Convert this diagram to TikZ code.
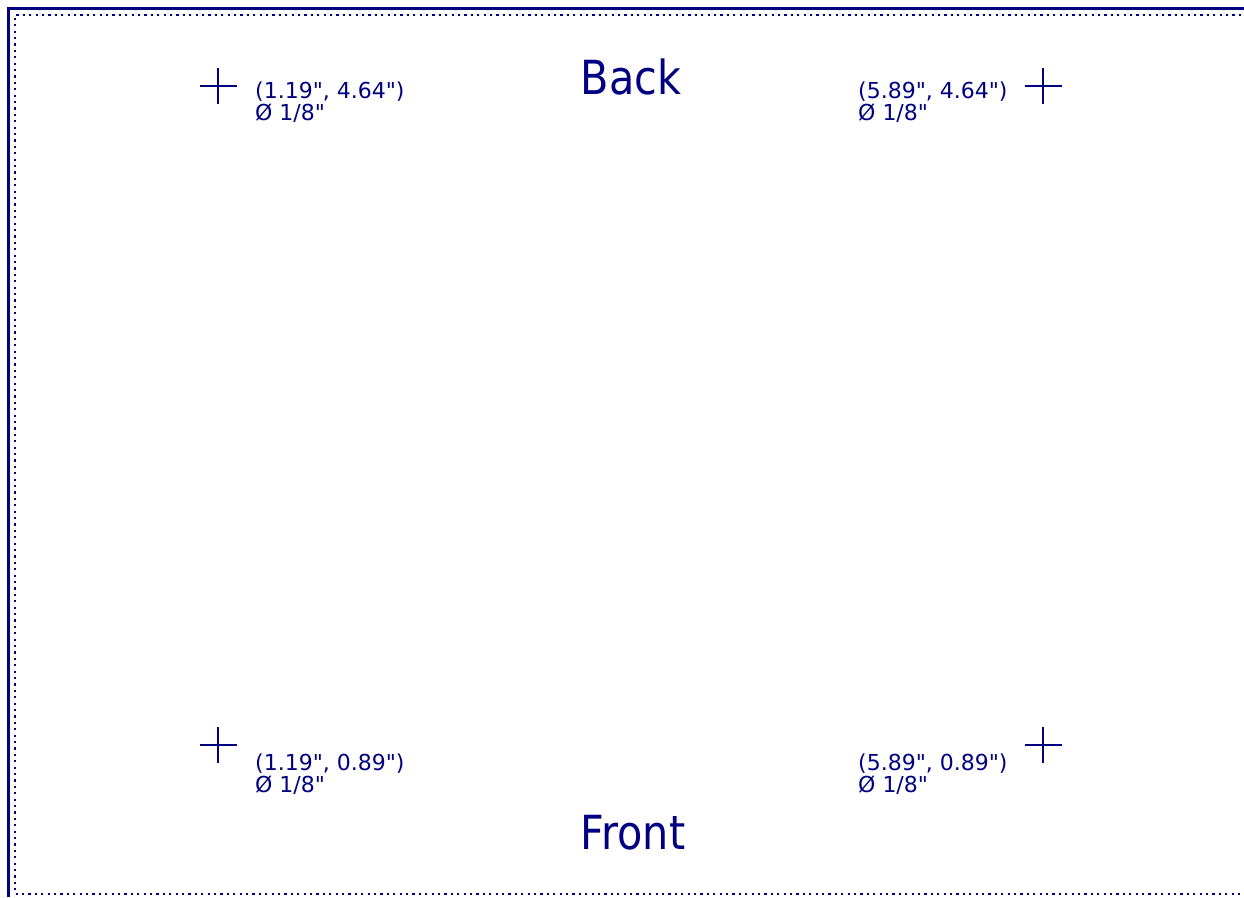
\documentclass[tikz,border=0pt]{standalone}
\usepackage{fontspec}
\setmainfont{DejaVu Sans}[Ligatures=TeXOff]
\newfontfamily\bigfont{DejaVu Sans}[FakeStretch=0.88,Ligatures=TeXOff]
\definecolor{navy}{RGB}{0,0,128}
\begin{document}
\begin{tikzpicture}[x=1pt,y=-1pt,
  frame/.style={draw=navy,line width=2.7pt},
  dotline/.style={draw=navy,line width=2.2pt,dash pattern=on 2.2pt off 4.2pt},
  crossmark/.style={draw=navy,line width=2.4pt},
  lbl/.style={text=navy,inner sep=0pt,anchor=base west,font=\fontsize{22}{22}\selectfont},
  title/.style={text=navy,inner sep=0pt,font=\bigfont\fontsize{47}{47}\selectfont}]
\useasboundingbox (0,0) rectangle (1244,897);
% frame
\coordinate (fa) at (8.2,897);
\coordinate (fb) at (8.2,8.2);
\coordinate (fc) at (1244,8.2);
\draw[frame] (fa) -- (fb) -- (fc);
\coordinate (da) at (1241,15);
\coordinate (db) at (15,15);
\coordinate (dc) at (15,894);
\coordinate (dd) at (1241,894);
\draw[dotline] (da) -- (db) -- (dc) -- (dd);
% hole centres
\coordinate (h1) at (218,86);
\coordinate (h2) at (1043,86);
\coordinate (h3) at (218,745);
\coordinate (h4) at (1043,745);
\foreach \h in {h1,h2,h3,h4}{
  \draw[crossmark] ([xshift=-18.5pt]\h) -- ([xshift=18.5pt]\h);
  \draw[crossmark] ([yshift=-18pt]\h) -- ([yshift=18pt]\h);
}
% labels
\node[lbl] (l1a) at (255,98) {(1.19", 4.64")};
\node[lbl] (l1b) at (255,120) {Ø 1/8"};
\node[lbl] (l2a) at (858,98) {(5.89", 4.64")};
\node[lbl] (l2b) at (858,120) {Ø 1/8"};
\node[lbl] (l3a) at (255,770) {(1.19", 0.89")};
\node[lbl] (l3b) at (255,792) {Ø 1/8"};
\node[lbl] (l4a) at (858,770) {(5.89", 0.89")};
\node[lbl] (l4b) at (858,792) {Ø 1/8"};
\node[title] (back) at (631,77) {Back};
\node[title] (front) at (633,833) {Front};
\end{tikzpicture}
\end{document}
